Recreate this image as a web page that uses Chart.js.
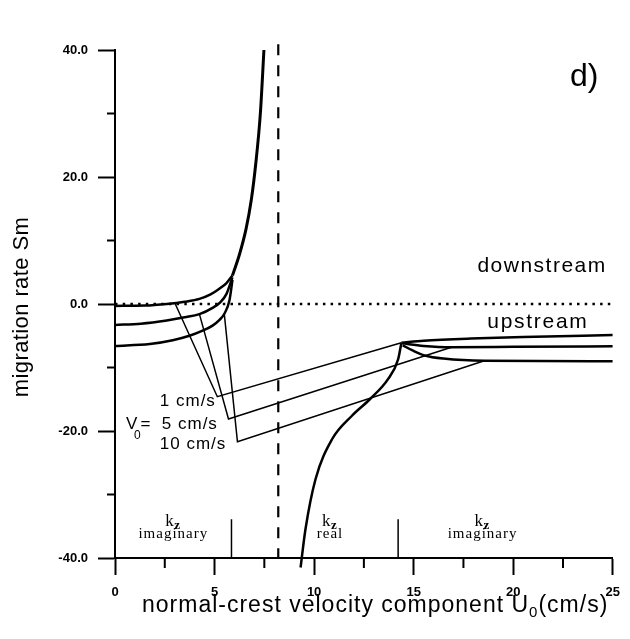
<!DOCTYPE html>
<html>
<head>
<meta charset="utf-8">
<script src="https://cdn.jsdelivr.net/npm/chart.js@4.4.0/dist/chart.umd.min.js"></script>
<style>
  html, body { margin: 0; padding: 0; background: #fff; }
  #wrap { width: 630px; height: 639px; }
</style>
</head>
<body>
<div id="wrap"><canvas id="chart" width="630" height="639"></canvas></div>
<script>
// axis ranges and tick values
const xMin = 0, xMax = 25;
const yMin = -40, yMax = 40;
const xMinorTicks = [2.5, 7.5, 12.5, 17.5, 22.5];
const yMinorTicks = [-30, -10, 10, 30];

// left branches, V0 = 1, 5, 10 cm/s  [U0, Sm]
const leftV1 = [[0, -0.3], [1.5, -0.25], [2.6, 0], [3.5, 0.35], [4.24, 0.8], [4.8, 1.5], [5.24, 2.4], [5.6, 3.3], [5.9, 4.5]];
const leftV5 = [[0, -3.3], [1.3, -3.1], [2.6, -2.6], [3.5, -2.1], [4.24, -1.6], [4.9, -0.6], [5.3, 0.3], [5.6, 1.6], [5.9, 4.2]];
const leftV10 = [[0, -6.6], [1.75, -6.3], [2.9, -5.7], [3.74, -5.0], [4.4, -4.2], [4.9, -3.4], [5.25, -2.5], [5.5, -1.5], [5.75, 0.6], [5.9, 3.8]];
// common branch rising to +infinity
const upperBranch = [[5.9, 4.5], [6.25, 7.8], [6.58, 11.8], [6.85, 16.5], [7.08, 22.4], [7.3, 30], [7.48, 40]];
// branch coming up from -infinity to the cusp
const lowerBranch = [[9.32, -41.5], [9.57, -35.4], [10.07, -27.6], [10.9, -21.3], [11.9, -17.6], [12.8, -15.0], [13.72, -11.8], [14.22, -8.7], [14.38, -6.2]];
// right branches after the cusp
const rightV1 = [[14.38, -6.1], [15.5, -5.8], [17.87, -5.45], [20.5, -5.2], [25, -4.9]];
const rightV5 = [[14.4, -6.2], [15.5, -6.6], [16.9, -6.8], [20, -6.75], [25, -6.65]];
const rightV10 = [[14.45, -6.5], [15.0, -7.4], [15.55, -8.1], [16.5, -8.6], [18.55, -8.95], [25, -9.0]];
// straight connectors through the V0 markers
const linkV1 = [[3.0, 0.2], [5.14, -14.6], [14.38, -6.1]];
const linkV5 = [[4.24, -1.6], [5.7, -18.1], [16.9, -6.8]];
const linkV10 = [[5.49, -1.6], [6.15, -21.7], [18.55, -8.95]];
// reference lines
const asymptoteU = 8.2;
const zeroLine = [[0, 0], [25, 0]];
const regionBounds = [5.85, 14.22];
const regionMarkTop = -33.9;

const pts = arr => arr.map(([x, y]) => ({ x, y }));

function curve(data, width) {
  return {
    data: pts(data),
    borderColor: '#000',
    borderWidth: width,
    pointRadius: 0,
    showLine: true,
    cubicInterpolationMode: 'monotone',
    fill: false
  };
}
function straight(data, width, dash) {
  return {
    data: pts(data),
    borderColor: '#000',
    borderWidth: width,
    borderDash: dash || [],
    pointRadius: 0,
    showLine: true,
    tension: 0,
    fill: false
  };
}

const datasets = [
  curve(leftV1, 2.5),
  curve(leftV5, 2.5),
  curve(leftV10, 2.5),
  curve(upperBranch, 3),
  Object.assign(curve(lowerBranch, 2.5), { clip: false }),
  curve(rightV1, 2.5),
  curve(rightV5, 2.5),
  curve(rightV10, 2.5),
  straight(linkV1, 1.5),
  straight(linkV5, 1.5),
  straight(linkV10, 1.5),
  Object.assign(straight([[asymptoteU, 40.9], [asymptoteU, yMin]], 2.2, [11, 10]), { clip: false }),
  straight(zeroLine, 2.5, [2.5, 5.2]),
  straight([[regionBounds[0], regionMarkTop], [regionBounds[0], yMin]], 1.5),
  straight([[regionBounds[1], regionMarkTop], [regionBounds[1], yMin]], 1.5)
];

function text(ctx, str, px, py, font, align, spacing) {
  ctx.font = font;
  ctx.textAlign = align || 'left';
  ctx.letterSpacing = (spacing || 0) + 'px';
  ctx.fillText(str, px, py);
}

// minor ticks, annotations and the axis titles (those carry subscripts)
const figureText = {
  id: 'figureText',
  afterDraw(chart) {
    const { ctx, chartArea: area } = chart;
    const x = chart.scales.x, y = chart.scales.y;
    const X = v => x.getPixelForValue(v);
    const Y = v => y.getPixelForValue(v);
    ctx.save();
    ctx.strokeStyle = '#000';
    ctx.fillStyle = '#000';
    ctx.lineWidth = 2;
    ctx.beginPath();
    xMinorTicks.forEach(v => {
      ctx.moveTo(X(v), area.bottom);
      ctx.lineTo(X(v), area.bottom + 10);
    });
    yMinorTicks.forEach(v => {
      ctx.moveTo(area.left - 8, Y(v));
      ctx.lineTo(area.left, Y(v));
    });
    ctx.stroke();

    ctx.textBaseline = 'alphabetic';
    const sans = 'Liberation Sans, Arial, sans-serif';
    const serif = 'Liberation Serif, Times New Roman, serif';

    text(ctx, 'd)', X(22.85), Y(34.3), '32px ' + sans);
    text(ctx, 'downstream', X(24.7), Y(5.0), '21px ' + sans, 'right', 1.5);
    text(ctx, 'upstream', X(18.7), Y(-3.8), '21px ' + sans, 'left', 1.7);

    // V0 labels
    text(ctx, '1 cm/s', X(2.25), Y(-16.1), '17px ' + sans, 'left', 1);
    text(ctx, 'V', X(0.55), Y(-19.7), '17px ' + sans, 'left', 0);
    text(ctx, '0', X(0.95), Y(-21.3), '12px ' + sans, 'left', 0);
    text(ctx, '=', X(1.28), Y(-19.7), '17px ' + sans, 'left', 0);
    text(ctx, '5 cm/s', X(2.35), Y(-19.7), '17px ' + sans, 'left', 1);
    text(ctx, '10 cm/s', X(2.25), Y(-22.8), '17px ' + sans, 'left', 1);

    // k_z region labels
    const regionLabels = [[2.93, 'imaginary'], [10.8, 'real'], [18.46, 'imaginary']];
    regionLabels.forEach(([u, word]) => {
      const cx = X(u);
      text(ctx, 'k', cx - 8, Y(-35.0), '17px ' + serif, 'left', 0);
      text(ctx, 'z', cx + 1, Y(-35.5), 'bold 13px ' + serif, 'left', 0);
      text(ctx, word, cx, Y(-36.9), '15px ' + serif, 'center', 1);
    });

    // x axis title
    ctx.textAlign = 'left';
    let px = 142;
    const base = 612;
    ctx.font = '23px ' + sans;
    ctx.letterSpacing = '1px';
    const part1 = 'normal-crest velocity component U';
    ctx.fillText(part1, px, base);
    px += ctx.measureText(part1).width;
    ctx.font = '15px ' + sans;
    ctx.fillText('0', px, base + 5);
    px += ctx.measureText('0').width;
    ctx.font = '23px ' + sans;
    ctx.fillText('(cm/s)', px, base);

    // y axis title
    ctx.save();
    ctx.translate(28, 307);
    ctx.rotate(-Math.PI / 2);
    text(ctx, 'migration rate Sm', 0, 0, '22px ' + sans, 'center', 0.4);
    ctx.restore();

    ctx.restore();
  }
};

new Chart(document.getElementById('chart'), {
  type: 'scatter',
  data: { datasets },
  options: {
    responsive: false,
    animation: false,
    layout: { padding: { left: 0, right: 14, top: 50, bottom: 0 } },
    plugins: { legend: { display: false }, tooltip: { enabled: false } },
    scales: {
      x: {
        type: 'linear',
        min: xMin,
        max: xMax,
        ticks: {
          stepSize: 5,
          color: '#000',
          padding: 10,
          maxRotation: 0,
          font: { family: 'Liberation Sans', size: 13, weight: 'bold' },
          callback: v => String(v)
        },
        grid: { drawOnChartArea: false, tickLength: 17, tickWidth: 2, tickColor: '#000' },
        border: { display: true, color: '#000', width: 2 },
        afterFit: s => { s.height = 81; }
      },
      y: {
        type: 'linear',
        min: yMin,
        max: yMax,
        ticks: {
          stepSize: 20,
          color: '#000',
          padding: 10,
          font: { family: 'Liberation Sans', size: 13, weight: 'bold' },
          callback: v => v.toFixed(1)
        },
        grid: { drawOnChartArea: false, tickLength: 17, tickWidth: 2, tickColor: '#000' },
        border: { display: true, color: '#000', width: 2 },
        afterFit: s => { s.width = 115; }
      }
    }
  },
  plugins: [figureText]
});
</script>
</body>
</html>
